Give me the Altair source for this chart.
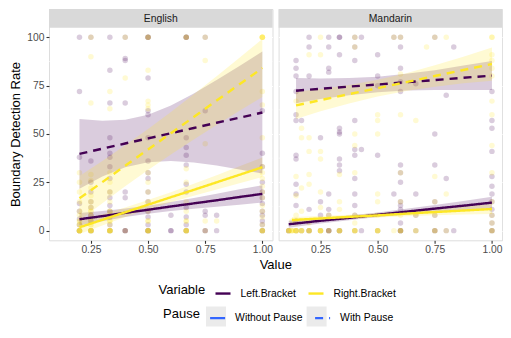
import altair as alt
import pandas as pd

LANGS = ["English", "Mandarin"]
VARIABLES = ["Left.Bracket", "Right.Bracket"]
PAUSES = ["Without Pause", "With Pause"]
COLORS = ["#440154", "#FDE725"]
DASHES = [[1, 0], [8, 6]]

X_TICKS = [0.25, 0.5, 0.75, 1.0]
X_MINOR = [0.125, 0.375, 0.625, 0.875]
Y_TICKS = [0, 25, 50, 75, 100]
Y_MINOR = [12.5, 37.5, 62.5, 87.5]

# ---- scatter points: Value -> list of Boundary Detection Rates ----
EN_LEFT_PTS = {
    0.2: [100, 72, 38, 14, 10, 6, 3, 0, 0],
    0.25: [100, 36, 25, 20, 15, 12, 8, 5, 0, 0],
    0.333: [100, 83, 66, 48, 40, 38, 33, 27, 20, 17, 13, 10, 7, 3, 0, 0],
    0.4: [100, 89, 88, 66, 20, 17, 0, 0, 0],
    0.5: [100, 100, 100, 79, 62, 60, 48, 36, 30, 27, 20, 15, 10, 7, 3, 0, 0, 0],
    0.6: [8, 0, 0],
    0.667: [100, 100, 100, 48, 43, 39, 34, 24, 20, 12, 7, 3, 0, 0],
    0.75: [100, 62, 10, 8, 0, 0],
    0.8: [8, 0],
    1.0: [62, 40, 33, 25, 20, 17, 14, 10, 8, 5, 3, 0, 0],
}
EN_RIGHT_PTS = {
    0.2: [30, 25, 20, 15, 10, 8, 5, 5, 3, 3, 0, 0, 0, 0, 0, 0],
    0.25: [100, 90, 66, 29, 26, 22, 18, 15, 12, 10, 10, 8, 8, 5, 5, 3, 3,
           0, 0, 0, 0, 0, 0],
    0.333: [72, 63, 30, 25, 20, 15, 10, 10, 5, 5, 3, 0, 0, 0, 0, 0, 0],
    0.4: [100, 79, 0],
    0.5: [100, 100, 83, 67, 65, 63, 30, 25, 20, 15, 10, 5, 5, 0, 0, 0, 0, 0],
    0.667: [100, 100, 32, 25, 15, 10, 5, 5, 0, 0, 0, 0, 0],
    0.75: [100, 88, 45, 5, 0],
    0.8: [5],
    1.0: [100, 100, 100, 100, 100, 72, 65, 48, 33, 30, 27, 23, 20, 17, 13, 10, 7,
          3, 0, 0, 0, 0],
}
MA_LEFT_PTS = {
    0.111: [0, 0],
    0.143: [88, 84, 80, 72, 60, 57, 39, 37, 24, 19, 13, 5, 0],
    0.167: [57, 0],
    0.2: [100, 95, 80, 11, 0, 0],
    0.25: [48, 15, 8, 0],
    0.286: [100, 95, 84, 82, 19, 11, 8, 0, 0, 0],
    0.333: [100, 100, 91, 53, 51, 50, 37, 34, 31, 0, 0],
    0.4: [100, 95, 88, 57, 42, 39, 27, 19, 13, 8, 0],
    0.429: [100, 42, 0],
    0.5: [91, 80, 75, 39, 0],
    0.571: [100, 19],
    0.6: [100, 95, 84, 77, 72, 34, 30, 25, 15, 13, 11, 4, 0, 0, 0],
    0.667: [76, 19, 8, 0],
    0.75: [100, 50, 34, 15, 8, 0, 0],
    0.8: [70, 27, 0],
    0.833: [95, 0],
    1.0: [72, 57, 53, 41, 28, 23, 19, 15, 11, 8, 4, 0, 0],
}
MA_RIGHT_PTS = {
    0.111: [0, 0, 0, 0],
    0.125: [0, 0, 0, 0, 5],
    0.143: [67, 28, 18, 8, 4, 0, 0, 0, 0, 0],
    0.167: [53, 48, 22, 10, 0, 0, 0, 0],
    0.2: [91, 48, 41, 29, 24, 4, 0, 0, 0, 0],
    0.25: [100, 91, 41, 37, 20, 12, 0, 0, 0, 0, 0],
    0.286: [8, 0, 0],
    0.333: [29, 15, 11, 0, 0, 0, 0],
    0.4: [100, 95, 50, 44, 30, 8, 4, 0, 0, 0, 0],
    0.5: [60, 57, 50, 19, 15, 8, 0, 0, 0, 0],
    0.571: [100, 0],
    0.6: [100, 81, 60, 30, 15, 8, 0, 0, 0],
    0.667: [57, 8, 0, 0],
    0.714: [95],
    0.75: [100, 28, 15, 8, 0, 0],
    0.8: [100, 19, 0],
    1.0: [100, 100, 91, 88, 84, 80, 67, 60, 44, 30, 15, 8, 4, 0, 0],
}

# ---- fitted lines with confidence bands ----
EN_X = [0.2, 0.3, 0.4, 0.5, 0.6, 0.7, 0.8, 0.9, 1.0]
EN_L_NP_FIT = [5.9, 7.5, 9.2, 10.8, 12.5, 14.1, 15.7, 17.4, 19.0]
EN_L_NP_LO = [2.7, 4.9, 7.0, 8.7, 10.2, 11.3, 12.3, 13.4, 14.5]
EN_L_NP_HI = [9.1, 10.1, 11.4, 12.9, 14.8, 16.9, 19.1, 21.4, 23.5]
EN_R_NP_FIT = [1.7, 5.6, 9.5, 13.4, 17.3, 21.1, 25.0, 28.9, 32.8]
EN_R_NP_LO = [-1.8, 2.7, 7.0, 11.0, 14.7, 18.0, 21.3, 24.5, 27.8]
EN_R_NP_HI = [5.2, 8.5, 12.0, 15.8, 19.9, 24.2, 28.7, 33.3, 37.8]
EN_L_P_FIT = [39.7, 42.4, 45.1, 47.7, 50.4, 53.1, 55.8, 58.4, 61.1]
EN_L_P_LO = [21.7, 28.0, 32.8, 35.4, 36.0, 35.2, 33.7, 31.6, 29.5]
EN_L_P_HI = [57.7, 56.8, 57.4, 60.0, 64.8, 71.0, 77.9, 85.2, 92.7]
EN_R_P_FIT = [16.7, 25.1, 33.6, 42.0, 50.4, 58.8, 67.3, 75.7, 84.1]
EN_R_P_LO = [5.2, 14.2, 23.0, 31.4, 39.4, 47.1, 54.7, 62.0, 69.1]
EN_R_P_HI = [28.2, 36.0, 44.2, 52.6, 61.4, 70.5, 79.9, 89.4, 99.1]

MA_L_NP_X = [0.111, 0.25, 0.375, 0.5, 0.625, 0.75, 0.875, 1.0]
MA_L_NP_FIT = [3.3, 5.1, 6.6, 8.2, 9.8, 11.4, 12.9, 14.5]
MA_L_NP_LO = [1.5, 3.7, 5.4, 7.0, 8.3, 9.5, 10.5, 11.5]
MA_L_NP_HI = [5.1, 6.5, 7.8, 9.4, 11.3, 13.3, 15.3, 17.5]
MA_R_NP_X = [0.125, 0.25, 0.375, 0.5, 0.625, 0.75, 0.875, 1.0]
MA_R_NP_FIT = [5.5, 6.3, 7.1, 7.9, 8.8, 9.6, 10.4, 11.2]
MA_R_NP_LO = [3.9, 5.0, 6.0, 6.8, 7.5, 7.9, 8.3, 8.6]
MA_R_NP_HI = [7.1, 7.6, 8.2, 9.0, 10.1, 11.3, 12.5, 13.8]
MA_P_X = [0.143, 0.25, 0.375, 0.5, 0.625, 0.75, 0.875, 1.0]
MA_L_P_FIT = [72.4, 73.4, 74.5, 75.6, 76.8, 77.9, 79.1, 80.2]
MA_L_P_LO = [65.9, 68.1, 70.1, 71.6, 72.5, 72.8, 72.8, 72.7]
MA_L_P_HI = [78.9, 78.7, 78.9, 79.6, 81.1, 83.0, 85.4, 87.7]
MA_R_P_FIT = [64.8, 67.5, 70.6, 73.7, 76.8, 80.0, 83.1, 86.2]
MA_R_P_LO = [57.8, 61.7, 65.8, 69.4, 72.2, 74.5, 76.2, 77.6]
MA_R_P_HI = [71.8, 73.3, 75.4, 78.0, 81.4, 85.5, 90.0, 94.8]

# ---- build tables ----
pt_rows = []
for lang, var, cols in [
    ("English", "Left.Bracket", EN_LEFT_PTS),
    ("English", "Right.Bracket", EN_RIGHT_PTS),
    ("Mandarin", "Left.Bracket", MA_LEFT_PTS),
    ("Mandarin", "Right.Bracket", MA_RIGHT_PTS),
]:
    for xv, ys in cols.items():
        for yv in ys:
            pt_rows.append({"Language": lang, "Variable": var, "Value": xv, "Rate": yv})
points = pd.DataFrame(pt_rows)

fit_rows = []
for lang, var, pause, xs, fit, lo, hi in [
    ("English", "Left.Bracket", "Without Pause", EN_X, EN_L_NP_FIT, EN_L_NP_LO, EN_L_NP_HI),
    ("English", "Right.Bracket", "Without Pause", EN_X, EN_R_NP_FIT, EN_R_NP_LO, EN_R_NP_HI),
    ("English", "Left.Bracket", "With Pause", EN_X, EN_L_P_FIT, EN_L_P_LO, EN_L_P_HI),
    ("English", "Right.Bracket", "With Pause", EN_X, EN_R_P_FIT, EN_R_P_LO, EN_R_P_HI),
    ("Mandarin", "Left.Bracket", "Without Pause", MA_L_NP_X, MA_L_NP_FIT, MA_L_NP_LO, MA_L_NP_HI),
    ("Mandarin", "Right.Bracket", "Without Pause", MA_R_NP_X, MA_R_NP_FIT, MA_R_NP_LO, MA_R_NP_HI),
    ("Mandarin", "Left.Bracket", "With Pause", MA_P_X, MA_L_P_FIT, MA_L_P_LO, MA_L_P_HI),
    ("Mandarin", "Right.Bracket", "With Pause", MA_P_X, MA_R_P_FIT, MA_R_P_LO, MA_R_P_HI),
]:
    for xv, f, l, h in zip(xs, fit, lo, hi):
        fit_rows.append({"Language": lang, "Variable": var, "Pause": pause,
                         "Value": xv, "fit": f, "lo": l, "hi": h})
fits = pd.DataFrame(fit_rows)

# ---- styling constants ----
FONT = "Liberation Sans"
PANEL_W = 223.5
PANEL_H = 231.3
STRIP_H = 18.7
X_DOMAIN = [0.0667, 1.0444]
Y_DOMAIN = [-5, 114.66]

xscale = alt.Scale(domain=X_DOMAIN, nice=False, zero=False)
yscale = alt.Scale(domain=Y_DOMAIN, nice=False, zero=False)

common_axis = dict(grid=True, gridColor="white", gridWidth=1.1, domain=False,
                   tickColor="#333333", tickWidth=1.1, tickSize=3,
                   labelColor="#4D4D4D", labelFontSize=10.3, labelFont=FONT,
                   titleFont=FONT, titleFontSize=13, titleFontWeight="normal",
                   titleColor="black", labelFlush=False)

KEY = 400  # legend key area (20 x 20 px)
leg_common = dict(orient="none", direction="horizontal", symbolSize=KEY,
                  labelFontSize=10.4, labelFont=FONT, labelColor="black",
                  titleFontSize=13, titleFont=FONT, titleFontWeight="normal",
                  titleColor="black", labelOffset=6, padding=0,
                  titleOrient="left", titlePadding=6, titleBaseline="middle",
                  titleAnchor="middle")
LAB_W = {"Left.Bracket": 55.5, "Without Pause": 67.6}
TITLE_W = {"Variable": 47.7, "Pause": 36.9}
COL_PAD = 7
VAR_X, VAR_Y = 109.5, 273.0
PAU_X, PAU_Y = 114.1, 297.5
LINE_SYM = "M-0.75,0H0.75"


def bg_legend(title, x, y, first_label):
    # key backgrounds: no text, second key aligned with the labelled legend
    return alt.Legend(title=None, symbolType="square", symbolStrokeWidth=0,
                      labelExpr="''", orient="none", direction="horizontal",
                      symbolSize=KEY, labelOffset=6, padding=0,
                      columnPadding=COL_PAD + LAB_W[first_label],
                      legendX=x + TITLE_W[title] + 6, legendY=y)


def panel(lang, first):
    if first:
        xaxis = alt.Axis(values=X_TICKS, format=".2f", title="Value",
                         titleX=PANEL_W + 2.8,
                         titleAnchor="middle", titleAlign="center", titlePadding=3,
                         labelPadding=1.5, **common_axis)
        yaxis = alt.Axis(values=Y_TICKS, title="Boundary Detection Rate", titleY=125,
                         titlePadding=4, labelPadding=2, **common_axis)
    else:
        xaxis = alt.Axis(values=X_TICKS, format=".2f", title=None, labelPadding=1.5,
                         **common_axis)
        yaxis = alt.Axis(values=Y_TICKS, title=None, labels=False, ticks=False,
                         grid=True, gridColor="white", gridWidth=1.1, domain=False)

    x = alt.X("Value:Q", scale=xscale, axis=xaxis)
    pdat = points[points.Language == lang]
    fdat = fits[fits.Language == lang]

    minor_x = alt.Chart(pd.DataFrame({"Value": X_MINOR})).mark_rule(
        color="white", strokeWidth=0.55).encode(x=x)
    minor_y = alt.Chart(pd.DataFrame({"Rate": Y_MINOR})).mark_rule(
        color="white", strokeWidth=0.55).encode(
        y=alt.Y("Rate:Q", scale=yscale, axis=yaxis))

    pts = alt.Chart(pdat).mark_circle(size=30, opacity=0.2).encode(
        x=x,
        y=alt.Y("Rate:Q", scale=yscale, axis=yaxis),
        color=alt.Color("Variable:N", scale=alt.Scale(domain=VARIABLES, range=COLORS),
                        legend=None),
    )
    bands = alt.Chart(fdat).mark_area(fillOpacity=0.2).encode(
        x=x,
        y=alt.Y("lo:Q", scale=yscale, axis=yaxis),
        y2="hi:Q",
        fill=alt.Fill("Variable:N", scale=alt.Scale(domain=VARIABLES, range=COLORS),
                      legend=bg_legend("Variable", VAR_X, VAR_Y, "Left.Bracket")),
        detail="Pause:N",
    )
    keys = alt.Chart(fdat).transform_filter("false").mark_square(
        color="#EBEBEB", filled=True).encode(
        opacity=alt.Opacity("Pause:N", scale=alt.Scale(domain=PAUSES, range=[1, 1]),
                            legend=bg_legend("Pause", PAU_X, PAU_Y, "Without Pause")),
    )
    lines = alt.Chart(fdat).mark_line(strokeWidth=2.4).encode(
        x=x,
        y=alt.Y("fit:Q", scale=yscale, axis=yaxis),
        stroke=alt.Stroke("Variable:N", scale=alt.Scale(range=COLORS),
                          legend=alt.Legend(title="Variable", symbolType=LINE_SYM,
                                            symbolStrokeWidth=2.4, columnPadding=COL_PAD,
                                            legendX=VAR_X, legendY=VAR_Y, **leg_common)),
        strokeDash=alt.StrokeDash("Pause:N", sort=PAUSES, scale=alt.Scale(range=DASHES),
                                  legend=alt.Legend(title="Pause", symbolType=LINE_SYM,
                                                    symbolStrokeColor="#3366FF",
                                                    symbolStrokeWidth=2.2,
                                                    columnPadding=COL_PAD,
                                                    legendX=PAU_X, legendY=PAU_Y,
                                                    **leg_common)),
    )
    sdat = pd.DataFrame({"Language": [lang]})
    strip = alt.Chart(sdat).mark_rect(color="#D9D9D9").encode(
        x=alt.value(0), x2=alt.value(PANEL_W), y=alt.value(0), y2=alt.value(STRIP_H))
    stext = alt.Chart(sdat).mark_text(font=FONT, fontSize=10.4, color="#1A1A1A",
                                      baseline="middle", align="center").encode(
        x=alt.value(PANEL_W / 2), y=alt.value(STRIP_H / 2 + 0.5), text="Language:N")

    return alt.layer(minor_x, minor_y, pts, bands, keys, lines, strip, stext).properties(
        width=PANEL_W, height=PANEL_H)


chart = alt.hconcat(panel("English", True), panel("Mandarin", False),
                    spacing=5.6, bounds="flush").properties(
    padding={"left": 1, "top": 0, "right": 0, "bottom": 0}
).configure_view(fill="#EBEBEB", stroke=None).configure(font=FONT)

chart.save("out.html", embed_options={"renderer": "svg", "actions": False})
